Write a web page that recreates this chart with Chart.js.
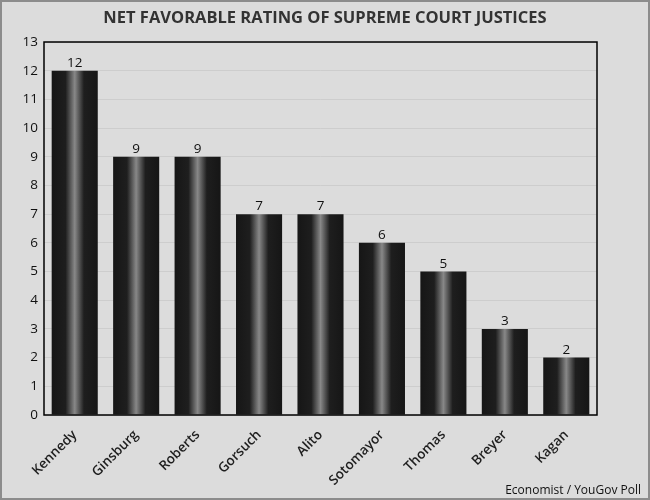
<!DOCTYPE html>
<html>
<head>
<meta charset="utf-8">
<script src="https://cdn.jsdelivr.net/npm/chart.js@4"></script>
<style>
  html, body { margin: 0; padding: 0; background: #dcdcdc; }
  #wrap { width: 650px; height: 500px; position: relative; }
</style>
</head>
<body>
<div id="wrap"><canvas id="chart" width="650" height="500"></canvas></div>
<script>
const justices = ["Kennedy", "Ginsburg", "Roberts", "Gorsuch", "Alito", "Sotomayor", "Thomas", "Breyer", "Kagan"];
const netRating = [12, 9, 9, 7, 7, 6, 5, 3, 2];
const chartTitle = "NET FAVORABLE RATING OF SUPREME COURT JUSTICES";
const sourceNote = "Economist / YouGov Poll";

const FONT = "'Open Sans', 'DejaVu Sans', sans-serif";

// background, frame, title, source and value labels
const decor = {
  id: "decor",
  beforeDraw(chart) {
    const c = chart.ctx;
    c.save();
    c.fillStyle = "#dcdcdc";
    c.fillRect(0, 0, chart.width, chart.height);
    c.restore();
  },
  afterDatasetsDraw(chart) {
    const c = chart.ctx;
    const area = chart.chartArea;
    c.save();
    c.strokeStyle = "#000";
    c.lineWidth = 1.5;
    c.strokeRect(area.left, area.top, area.right - area.left, area.bottom - area.top);

    // values above bars
    c.fillStyle = "#111";
    c.font = "13.5px " + FONT;
    c.textAlign = "center";
    c.textBaseline = "bottom";
    chart.getDatasetMeta(0).data.forEach((bar, i) => {
      c.fillText(netRating[i], bar.x, bar.y - 1);
    });

    c.fillStyle = "#333";
    c.font = "bold 16.5px " + FONT;
    c.textBaseline = "middle";
    c.fillText(chartTitle, chart.width / 2, 18);

    c.fillStyle = "#111";
    c.font = "12px " + FONT;
    c.textAlign = "right";
    c.textBaseline = "alphabetic";
    c.fillText(sourceNote, chart.width - 9, 494);

    c.strokeStyle = "#8c8c8c";
    c.lineWidth = 2;
    c.strokeRect(1, 1, chart.width - 2, chart.height - 2);
    c.restore();
  }
};

function barGradient(context) {
  const chart = context.chart;
  const x = chart.scales.x;
  if (!x || !chart.chartArea) return "#1a1a1a";
  const center = x.getPixelForValue(context.dataIndex);
  const w = (x.right - x.left) / justices.length * 0.75;
  const g = chart.ctx.createLinearGradient(center - w / 2, 0, center + w / 2, 0);
  g.addColorStop(0, "#161616");
  g.addColorStop(0.3, "#1e1e1e");
  g.addColorStop(0.5, "#888888");
  g.addColorStop(0.7, "#1e1e1e");
  g.addColorStop(1, "#161616");
  return g;
}

new Chart(document.getElementById("chart").getContext("2d"), {
  type: "bar",
  data: {
    labels: justices,
    datasets: [{
      data: netRating,
      backgroundColor: barGradient,
      borderWidth: 0,
      categoryPercentage: 0.75,
      barPercentage: 1
    }]
  },
  options: {
    responsive: false,
    animation: false,
    layout: { padding: { top: 42, right: 53, left: 0, bottom: 0 } },
    plugins: {
      legend: { display: false },
      tooltip: { enabled: false },
      title: { display: false }
    },
    scales: {
      y: {
        min: 0,
        max: 13,
        ticks: { stepSize: 1, color: "#111", font: { family: FONT, size: 13.5 }, padding: 6 },
        grid: { color: "#cdcdcd", drawTicks: false },
        border: { display: false },
        afterFit(scale) { scale.width = 44; }
      },
      x: {
        ticks: {
          color: "#1e1e1e",
          minRotation: 45,
          maxRotation: 45,
          font: { family: FONT, size: 13.5, weight: "600" },
          padding: 4
        },
        grid: { display: false },
        border: { display: false },
        afterFit(scale) { scale.height = 85; }
      }
    }
  },
  plugins: [decor]
});
</script>
</body>
</html>
